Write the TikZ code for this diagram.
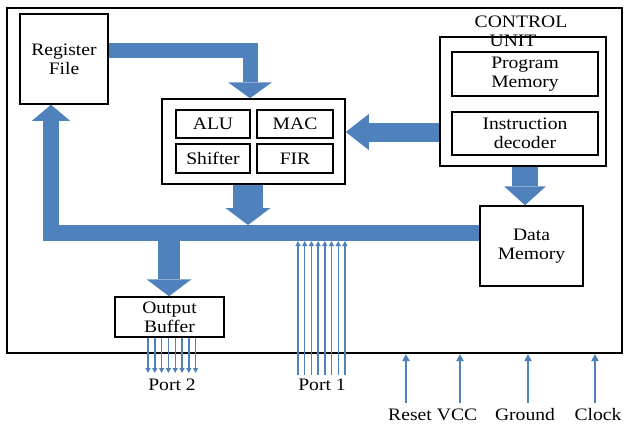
\documentclass[tikz,border=0pt]{standalone}
\usepackage{fontspec}
\setmainfont{Liberation Serif}[FakeStretch=1.12]
\usetikzlibrary{arrows.meta}
\definecolor{bblue}{HTML}{4F81BD}
\begin{document}
\begin{tikzpicture}[x=1pt,y=-1pt,
  every node/.style={font=\fontsize{17.5}{19}\selectfont, align=center, inner sep=0pt},
  box/.style={draw, line width=1.5pt, fill=white},
  blk/.style args={#1/#2/#3}{draw=bblue, line width=#1, line join=miter,
     -{Triangle[width=#2,length=#3,line width=0pt]}},
  thinarrow/.style={draw=bblue, line width=1.4pt, -{Triangle[width=5pt,length=5pt]}},
  pinarrow/.style={draw=bblue, line width=2pt, -{Triangle[width=7pt,length=7pt]}},
]
\useasboundingbox (0,0) rectangle (624,426);
% chip outline
\node[draw, line width=2pt, minimum width=615pt, minimum height=345pt] (chip) at (314.5,180.5) {};

% helper coordinates
\coordinate (c1) at (250,50);
\coordinate (c2) at (248,225);
\coordinate (c3) at (51,233);
\coordinate (busB) at (169,241);
\coordinate (c5) at (0,132);
\coordinate (c6) at (525,0);

% blocks
\node[box, minimum width=88pt, minimum height=90pt] (RF) at (64,59) {Register\\File};
\node[box, minimum width=183pt, minimum height=85pt] (EU) at (253.5,141.5) {};
\node[box, minimum width=74pt, minimum height=28pt] (ALU) at (213,124) {ALU};
\node[box, minimum width=76pt, minimum height=28pt] (MAC) at (295,124) {MAC};
\node[box, minimum width=74pt, minimum height=29pt] (SH) at (213,158.5) {Shifter};
\node[box, minimum width=76pt, minimum height=29pt] (FIR) at (295,158.5) {FIR};
\node[box, minimum width=166pt, minimum height=129pt] (CU) at (523,101.5) {};
\node (CUl) at (521,31.5) {CONTROL\\UNIT\hspace*{16pt}};
\node[box, minimum width=146pt, minimum height=44pt] (PM) at (525,74) {Program\\Memory};
\node[box, minimum width=146pt, minimum height=43pt] (ID) at (525,133.5) {Instruction\\decoder};
\node[box, minimum width=103pt, minimum height=80pt] (DM) at (531.5,246) {Data\\Memory};
\node[box, minimum width=109pt, minimum height=40pt] (OB) at (169.5,317) {Output\\Buffer};

% block arrows
\draw[blk=15pt/44pt/16pt] (RF.east |- c1) -- (c1) -- (c1 |- EU.north);
\draw[blk=30pt/45pt/17pt] (c2 |- EU.south) -- (c2);
\draw[blk=16pt/38pt/16pt] (DM.west |- c3) -- (c3) -- (c3 |- RF.south);
\draw[blk=22pt/45pt/17pt] (busB) -- (busB |- OB.north);
\draw[blk=19pt/36pt/23pt] (CU.west |- c5) -- (EU.east |- c5);
\draw[blk=26pt/42pt/19pt] (c6 |- CU.south) -- (c6 |- DM.north);

% ports
\node[anchor=base] (P2) at (172,390) {Port 2};
\node[anchor=base] (P1) at (322,390) {Port 1};
\foreach \i in {0,...,7} {
  \coordinate (q\i) at ({148+\i*6.8},373);
  \draw[thinarrow] (q\i |- OB.south) -- (q\i);
  \coordinate (r\i) at ({298+\i*6.7},375);
  \draw[thinarrow] (r\i) -- (r\i |- busB);
}

% pins
\node[anchor=base] (rst) at (410,420) {Reset};
\node[anchor=base] (vcc) at (457,420) {VCC};
\node[anchor=base] (gnd) at (525,420) {Ground};
\node[anchor=base] (clk) at (598,420) {Clock};
\coordinate (a1) at (406,403);
\coordinate (a2) at (460,403);
\coordinate (a3) at (528,403);
\coordinate (a4) at (595,403);
\foreach \a in {a1,a2,a3,a4} {
  \draw[pinarrow] (\a) -- (\a |- chip.south);
}
\end{tikzpicture}
\end{document}
